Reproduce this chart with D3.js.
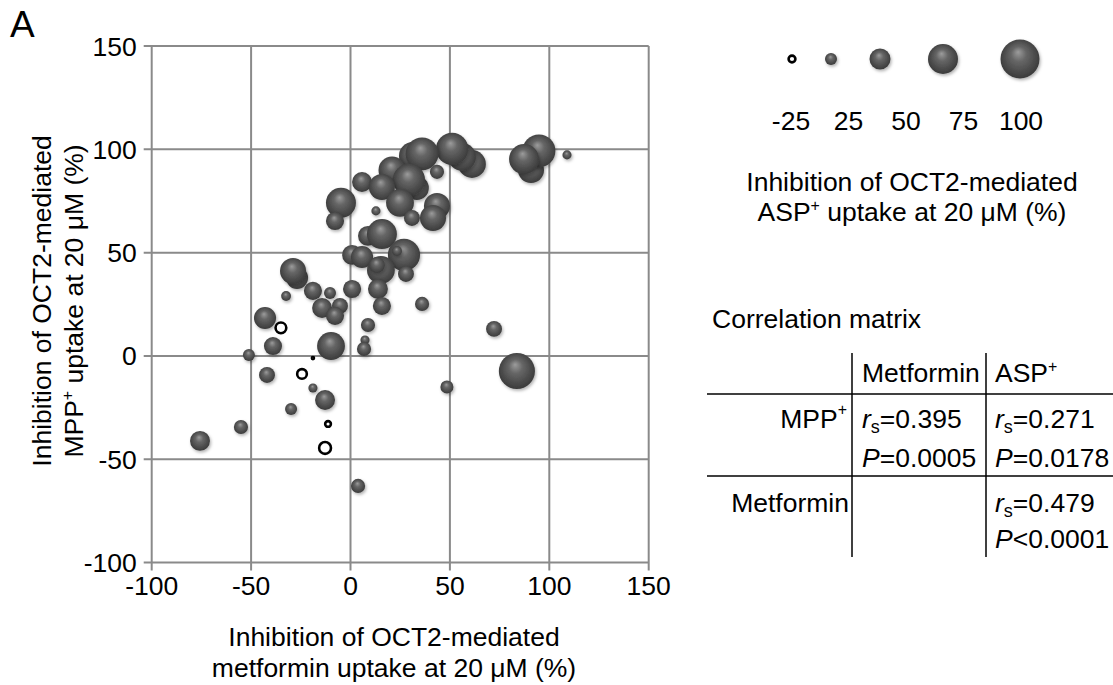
<!DOCTYPE html>
<html>
<head>
<meta charset="utf-8">
<script src="https://cdn.jsdelivr.net/npm/d3@7"></script>
<style>
  html, body { margin: 0; padding: 0; background: #fff; }
  svg text { font-family: "Liberation Sans", Arial, sans-serif; fill: #000; }
</style>
</head>
<body>
<svg id="chart" width="1113" height="685"></svg>
<script>
// ---- data (x: metformin inhibition, y: MPP+ inhibition, size: ASP+ inhibition; all %) ----
const metformin = [90.8, 94.8, 87.3, 108.9,
  31.4, 61.1, 56.1, 51.1, 36.0, 43.5,
  20.9, 33.4, 29.4, 5.8, 15.8, 24.9, -4.8, -7.8, 12.8, 30.9, 43.5, 41.5,
  8.8, 15.8, 26.9, 23.4, 0.8, 5.8, 15.3, 13.3, 27.9, 0.8, 13.8, 15.8, 36.0, 8.8, 7.3, 6.8,
  -26.9, -28.9, -32.4, -18.9, -10.3, -14.3, -5.3, -7.8, -43.0, -35.0, -39.0, -51.1, -9.8, -18.9,
  -42.0, -24.4, -18.9, -12.8, -29.9, -55.1, -75.7, -11.3, -12.8, 3.8,
  72.2, 83.7, 48.5];
const mpp = [90.0, 99.2, 95.3, 97.3,
  96.8, 92.9, 96.3, 100.2, 97.8, 89.1,
  90.0, 81.3, 85.2, 84.2, 81.8, 74.1, 74.1, 65.3, 70.2, 66.8, 72.6, 66.8,
  58.1, 59.0, 48.9, 50.8, 48.9, 47.9, 41.6, 44.0, 39.7, 32.4, 32.4, 24.2, 25.2, 15.0, 7.7, 3.4,
  37.8, 41.1, 29.0, 31.5, 30.5, 23.2, 24.2, 19.4, 18.4, 13.6, 4.8, 0.5, 4.8, -1.0,
  -9.2, -8.7, -15.5, -21.3, -25.7, -34.4, -41.1, -32.9, -44.5, -62.9,
  13.1, -7.3, -15.0];
const asp = [64, 83, 75, 17,
  69, 69, 69, 81, 83, 31,
  67, 58, 81, 47, 64, 69, 75, 42, 17, 36, 64, 64,
  47, 75, 81, 19, 47, 53, 69, 36, 36, 42, 47, 42, 31, 31, 17, 31,
  53, 64, 19, 42, 25, 47, 36, 42, 53, -36, 42, 25, 69, -12,
  36, -33, 17, 47, 25, 31, 47, -22, -39, 31,
  36, 92, 28];

const axisTicks = [-100, -50, 0, 50, 100, 150];
const legendValues = [-25, 25, 50, 75, 100];
const legendLabels = ["-25", "25", "50", "75", "100"];

const corrHeaders = ["Metformin", "ASP+"];
const corrRows = ["MPP+", "Metformin"];
const corrRs = [["0.395", "0.271"], [null, "0.479"]];
const corrP = [["=0.0005", "=0.0178"], [null, "<0.0001"]];

// ---- setup ----
const svg = d3.select("#chart");
const FS = 26.5;
const gridColor = "#8a8a8a";

const defs = svg.append("defs");
const grad = defs.append("radialGradient").attr("id", "ball")
  .attr("cx", "50%").attr("cy", "48%").attr("r", "55%")
  .attr("fx", "45%").attr("fy", "32%");
grad.append("stop").attr("offset", "0%").attr("stop-color", "#9c9c9c");
grad.append("stop").attr("offset", "35%").attr("stop-color", "#666666");
grad.append("stop").attr("offset", "78%").attr("stop-color", "#474747");
grad.append("stop").attr("offset", "100%").attr("stop-color", "#383838");
const flt = defs.append("filter").attr("id", "shadow")
  .attr("x", "-30%").attr("y", "-30%").attr("width", "170%").attr("height", "170%");
flt.append("feDropShadow").attr("dx", 1.2).attr("dy", 1.8)
  .attr("stdDeviation", 1.4).attr("flood-color", "#000").attr("flood-opacity", 0.3);

const x = d3.scaleLinear().domain([-100, 150]).range([151.7, 648.7]);
const y = d3.scaleLinear().domain([-100, 150]).range([562.6, 46]);
const r = d3.scaleLinear().domain([0, 100]).range([1.5, 19.5]);

// ---- grid ----
const grid = svg.append("g");
grid.selectAll("line.gx").data(axisTicks).join("line")
  .attr("x1", d => x(d)).attr("x2", d => x(d))
  .attr("y1", y(150)).attr("y2", y(-100) + 8)
  .attr("stroke", gridColor).attr("stroke-width", 2);
grid.selectAll("line.gy").data(axisTicks).join("line")
  .attr("x1", x(-100) - 8).attr("x2", x(150))
  .attr("y1", d => y(d)).attr("y2", d => y(d))
  .attr("stroke", gridColor).attr("stroke-width", 2);

// tick labels
svg.append("g").selectAll("text").data(axisTicks).join("text")
  .attr("x", x(-100) - 15).attr("y", d => y(d) + 9.5)
  .attr("text-anchor", "end").attr("font-size", FS).text(d => d);
svg.append("g").selectAll("text").data(axisTicks).join("text")
  .attr("x", d => x(d)).attr("y", y(-100) + 32)
  .attr("text-anchor", "middle").attr("font-size", FS).text(d => d);

// ---- bubbles ----
const pts = metformin.map((m, i) => ({ x: m, y: mpp[i], s: asp[i] }));
const bub = svg.append("g");
pts.forEach(d => {
  if (d.s >= 0) {
    bub.append("circle").attr("cx", x(d.x)).attr("cy", y(d.y)).attr("r", r(d.s))
      .attr("fill", "url(#ball)").attr("filter", "url(#shadow)");
  } else {
    bub.append("circle").attr("cx", x(d.x)).attr("cy", y(d.y))
      .attr("r", Math.max(0.6, r(-d.s) - 2.6))
      .attr("fill", "#fff").attr("stroke", "#000").attr("stroke-width", 2.6);
  }
});

// ---- axis titles ----
svg.append("text").attr("x", 10).attr("y", 37).attr("font-size", 37).text("A");

function sup(textSel, base, supTxt, rest) {
  textSel.append("tspan").text(base);
  textSel.append("tspan").attr("font-size", FS * 0.6).attr("dy", -10).text(supTxt);
  textSel.append("tspan").attr("dy", 10).text(rest);
}

svg.append("text").attr("transform", "translate(51,301) rotate(-90)")
  .attr("text-anchor", "middle").attr("font-size", FS).text("Inhibition of OCT2-mediated");
sup(svg.append("text").attr("transform", "translate(83,301) rotate(-90)")
  .attr("text-anchor", "middle").attr("font-size", FS), "MPP", "+", " uptake at 20 μM (%)");

svg.append("text").attr("x", 394).attr("y", 646).attr("text-anchor", "middle")
  .attr("font-size", FS).text("Inhibition of OCT2-mediated");
svg.append("text").attr("x", 394).attr("y", 677).attr("text-anchor", "middle")
  .attr("font-size", FS).text("metformin uptake at 20 μM (%)");

// ---- size legend ----
const legendStep = [0, 39, 49, 63, 77];
const legendX = legendStep.map((s, i) => 792 + d3.sum(legendStep.slice(0, i + 1)));
const labelX = d3.scalePoint().domain(legendLabels).range([791, 1021]);
const lg = svg.append("g");
legendValues.forEach((v, i) => {
  if (v >= 0) {
    lg.append("circle").attr("cx", legendX[i]).attr("cy", 59).attr("r", r(v))
      .attr("fill", "url(#ball)").attr("filter", "url(#shadow)");
  } else {
    lg.append("circle").attr("cx", legendX[i]).attr("cy", 59).attr("r", r(-v) - 2.6)
      .attr("fill", "#fff").attr("stroke", "#000").attr("stroke-width", 2.6);
  }
  lg.append("text").attr("x", labelX(legendLabels[i])).attr("y", 130).attr("text-anchor", "middle")
    .attr("font-size", FS).text(legendLabels[i]);
});
svg.append("text").attr("x", 912).attr("y", 191).attr("text-anchor", "middle")
  .attr("font-size", FS).text("Inhibition of OCT2-mediated");
sup(svg.append("text").attr("x", 912).attr("y", 221).attr("text-anchor", "middle")
  .attr("font-size", FS), "ASP", "+", " uptake at 20 μM (%)");

// ---- correlation matrix ----
svg.append("text").attr("x", 712).attr("y", 328).attr("font-size", FS).text("Correlation matrix");
const tb = svg.append("g").attr("stroke", "#000").attr("stroke-width", 1.5);
[852, 986].forEach(cx => tb.append("line").attr("x1", cx).attr("x2", cx).attr("y1", 353).attr("y2", 557));
[394, 476].forEach(cy => tb.append("line").attr("x1", 707).attr("x2", 1113).attr("y1", cy).attr("y2", cy));

const colX = [862, 995];
const rowY = [428, 512];
// headers
svg.append("text").attr("x", colX[0]).attr("y", 382).attr("font-size", FS).text(corrHeaders[0]);
sup(svg.append("text").attr("x", colX[1]).attr("y", 382).attr("font-size", FS), "ASP", "+", "");
// row labels
const rl0 = svg.append("text").attr("x", 847).attr("y", rowY[0]).attr("text-anchor", "end").attr("font-size", FS);
rl0.append("tspan").text("MPP");
rl0.append("tspan").attr("font-size", FS * 0.6).attr("dy", -13).text("+");
svg.append("text").attr("x", 849).attr("y", rowY[1]).attr("text-anchor", "end").attr("font-size", FS).text(corrRows[1]);
// cells
corrRs.forEach((row, ri) => {
  row.forEach((val, ci) => {
    if (val === null) return;
    const t = svg.append("text").attr("x", colX[ci]).attr("y", rowY[ri]).attr("font-size", FS);
    t.append("tspan").attr("font-style", "italic").text("r");
    t.append("tspan").attr("font-size", FS * 0.68).attr("dy", 5).text("s");
    t.append("tspan").attr("dy", -5).text("=" + val);
    const p = svg.append("text").attr("x", colX[ci]).attr("y", rowY[ri] + (ri === 0 ? 39 : 36)).attr("font-size", FS);
    p.append("tspan").attr("font-style", "italic").text("P");
    p.append("tspan").text(corrP[ri][ci]);
  });
});
</script>
</body>
</html>
